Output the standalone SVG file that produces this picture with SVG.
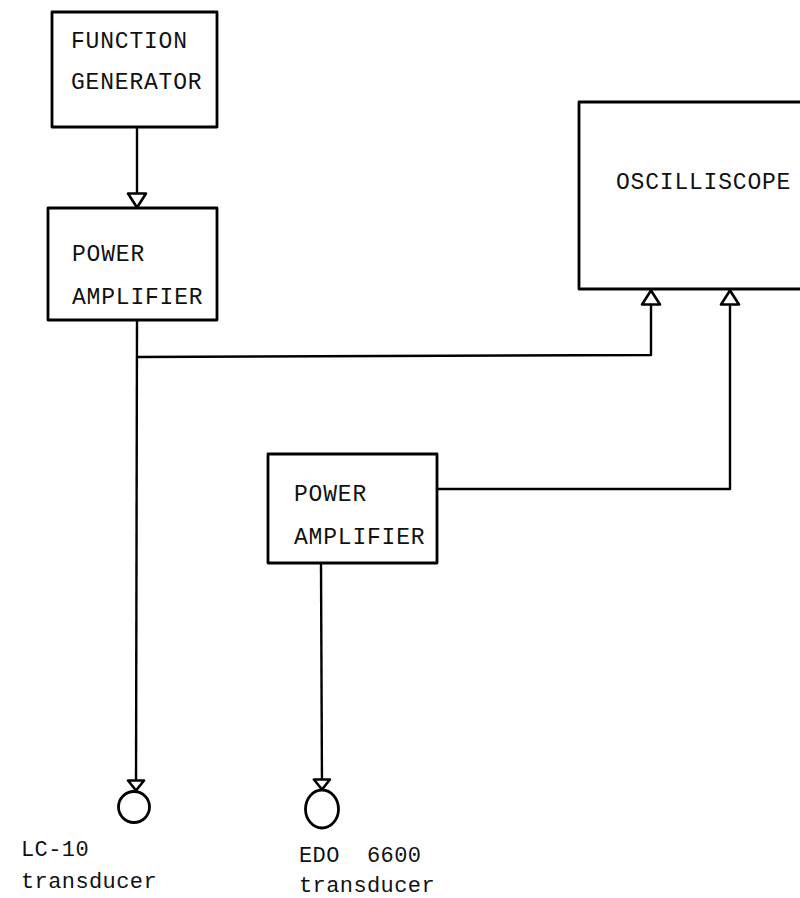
<svg xmlns="http://www.w3.org/2000/svg" width="800" height="898" viewBox="0 0 800 898">
<style>
.box{fill:none;stroke:#000;stroke-width:2.8;stroke-linejoin:round}
.lbl{font-family:"Liberation Mono","DejaVu Sans Mono",monospace;font-size:23px;letter-spacing:0.8px;fill:#111}
.cap{font-family:"Liberation Mono","DejaVu Sans Mono",monospace;font-size:22px;letter-spacing:0.4px;fill:#111}
.wire{fill:none;stroke:#000;stroke-width:2.4;stroke-linejoin:round}
.xd{fill:none;stroke:#000;stroke-width:2.8}
</style>
<defs>
<marker id="arr" viewBox="0 0 17 22" refX="16" refY="11" markerWidth="17" markerHeight="22" markerUnits="userSpaceOnUse" orient="auto">
<path d="M1.5,2 L15.5,11 L1.5,20 Z" fill="#fff" stroke="#000" stroke-width="2.6" stroke-linejoin="round"/>
</marker>
<marker id="arrw" viewBox="0 0 13 20" refX="12" refY="10" markerWidth="13" markerHeight="20" markerUnits="userSpaceOnUse" orient="auto">
<path d="M1.5,2 L11.5,10 L1.5,18 Z" fill="#fff" stroke="#000" stroke-width="2.6" stroke-linejoin="round"/>
</marker>
</defs>

<g id="function-generator">
<rect class="box" x="52" y="12" width="165" height="115"/>
<text class="lbl" x="71" y="48">FUNCTION</text>
<text class="lbl" x="71" y="89">GENERATOR</text>
</g>

<g id="power-amplifier-1">
<rect class="box" x="48" y="208" width="169" height="112"/>
<text class="lbl" x="72" y="261">POWER</text>
<text class="lbl" x="72" y="304">AMPLIFIER</text>
</g>

<g id="oscilliscope">
<path class="box" d="M801,102 L579,102 L579,289 L801,289"/>
<text class="lbl" x="616" y="189">OSCILLISCOPE</text>
</g>

<g id="power-amplifier-2">
<rect class="box" x="268" y="454" width="169" height="109"/>
<text class="lbl" x="294" y="501">POWER</text>
<text class="lbl" x="294" y="544">AMPLIFIER</text>
</g>

<g id="lc10-transducer">
<circle class="xd" cx="134" cy="807" r="15.5"/>
<text class="cap" x="21" y="856">LC-10</text>
<text class="cap" x="21" y="888">transducer</text>
</g>

<g id="edo6600-transducer">
<ellipse class="xd" cx="322" cy="809" rx="16.5" ry="19"/>
<text class="cap" x="299" y="862" xml:space="preserve">EDO  6600</text>
<text class="cap" x="299" y="892">transducer</text>
</g>

<g id="connectors">
<path class="wire" d="M137,127 L137,208" marker-end="url(#arr)"/>
<path class="wire" d="M137,320 L136,791" marker-end="url(#arrw)"/>
<path class="wire" d="M137,357 L651,355 L651,290" marker-end="url(#arr)"/>
<path class="wire" d="M437,489 L730,489 L730,290" marker-end="url(#arr)"/>
<path class="wire" d="M321,563 L322,790" marker-end="url(#arrw)"/>
</g>
</svg>
